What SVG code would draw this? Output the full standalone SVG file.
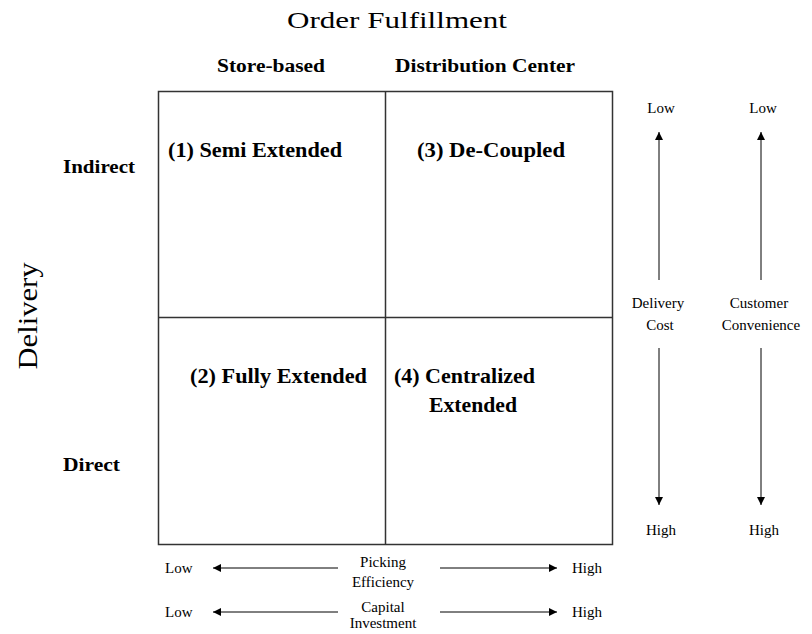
<svg xmlns="http://www.w3.org/2000/svg" width="812" height="634" viewBox="0 0 812 634" font-family="'Liberation Serif', 'Times New Roman', 'DejaVu Serif', serif">
<style>
text{font-family:'Liberation Serif','Times New Roman','DejaVu Serif',serif;fill:#000}
.t{font-size:24px}
.h{font-size:18px;font-weight:bold}
.q{font-size:21px;font-weight:bold}
.s{font-size:15px}
.box{fill:none;stroke:#333;stroke-width:1.5}
.ar{stroke:#000;stroke-width:1;fill:none;marker-end:url(#ah)}
</style>
<defs>
<marker id="ah" viewBox="0 0 10 10" refX="10" refY="5" markerWidth="9" markerHeight="8" markerUnits="userSpaceOnUse" orient="auto">
<path d="M0,0 L10,5 L0,10 Z" fill="#000"/>
</marker>
</defs>
<rect width="812" height="634" fill="#fff"/>
<g id="title"><text class="t" x="397" y="28" text-anchor="middle" textLength="220" lengthAdjust="spacingAndGlyphs">Order Fulfillment</text></g>
<g id="col-store"><text class="h" x="271" y="72" text-anchor="middle" textLength="108" lengthAdjust="spacingAndGlyphs">Store-based</text></g>
<g id="col-dc"><text class="h" x="485" y="72" text-anchor="middle" textLength="180" lengthAdjust="spacingAndGlyphs">Distribution Center</text></g>
<g id="row-indirect"><text class="h" x="63" y="173" textLength="72" lengthAdjust="spacingAndGlyphs">Indirect</text></g>
<g id="row-direct"><text class="h" x="63" y="471" textLength="57" lengthAdjust="spacingAndGlyphs">Direct</text></g>
<g id="axis-delivery"><text x="37" y="316" font-size="28" text-anchor="middle" transform="rotate(-90 37 316)" textLength="107" lengthAdjust="spacingAndGlyphs">Delivery</text></g>
<g id="matrix">
<rect class="box" x="158.5" y="91.5" width="454" height="453"/>
<line class="box" x1="385.5" y1="91.5" x2="385.5" y2="544.5"/>
<line class="box" x1="158.5" y1="317.5" x2="612.5" y2="317.5"/>
</g>
<g id="q1"><text class="q" x="168" y="157" textLength="174" lengthAdjust="spacingAndGlyphs">(1) Semi Extended</text></g>
<g id="q3"><text class="q" x="417" y="157" textLength="148" lengthAdjust="spacingAndGlyphs">(3) De-Coupled</text></g>
<g id="q2"><text class="q" x="190" y="383" textLength="177" lengthAdjust="spacingAndGlyphs">(2) Fully Extended</text></g>
<g id="q4"><text class="q" x="394" y="383" textLength="141" lengthAdjust="spacingAndGlyphs">(4) Centralized</text><text class="q" x="429" y="412" textLength="88" lengthAdjust="spacingAndGlyphs">Extended</text></g>
<g id="delivery-cost">
<text class="s" x="661" y="113" text-anchor="middle">Low</text>
<text class="s" x="658" y="308" text-anchor="middle">Delivery</text>
<text class="s" x="660" y="330" text-anchor="middle">Cost</text>
<text class="s" x="661" y="535" text-anchor="middle">High</text>
</g>
<g id="customer-convenience">
<text class="s" x="763" y="113" text-anchor="middle">Low</text>
<text class="s" x="759" y="308" text-anchor="middle">Customer</text>
<text class="s" x="761" y="330" text-anchor="middle">Convenience</text>
<text class="s" x="764" y="535" text-anchor="middle">High</text>
</g>
<g id="picking-efficiency">
<text class="s" x="165" y="573">Low</text>
<text class="s" x="383" y="567" text-anchor="middle">Picking</text>
<text class="s" x="383" y="587" text-anchor="middle">Efficiency</text>
<text class="s" x="572" y="573">High</text>
</g>
<g id="capital-investment">
<text class="s" x="165" y="617">Low</text>
<text class="s" x="383" y="612" text-anchor="middle" font-size="14">Capital</text>
<text class="s" x="383" y="628" text-anchor="middle" font-size="14">Investment</text>
<text class="s" x="572" y="617">High</text>
</g>
<g id="connectors">
<line class="ar" x1="659" y1="280" x2="659" y2="132"/>
<line class="ar" x1="659" y1="348" x2="659" y2="505"/>
<line class="ar" x1="761" y1="280" x2="761" y2="132"/>
<line class="ar" x1="761" y1="348" x2="761" y2="505"/>
<line class="ar" x1="338" y1="568" x2="213" y2="568"/>
<line class="ar" x1="440" y1="568" x2="557" y2="568"/>
<line class="ar" x1="338" y1="612" x2="213" y2="612"/>
<line class="ar" x1="440" y1="612" x2="557" y2="612"/>
</g>
</svg>
